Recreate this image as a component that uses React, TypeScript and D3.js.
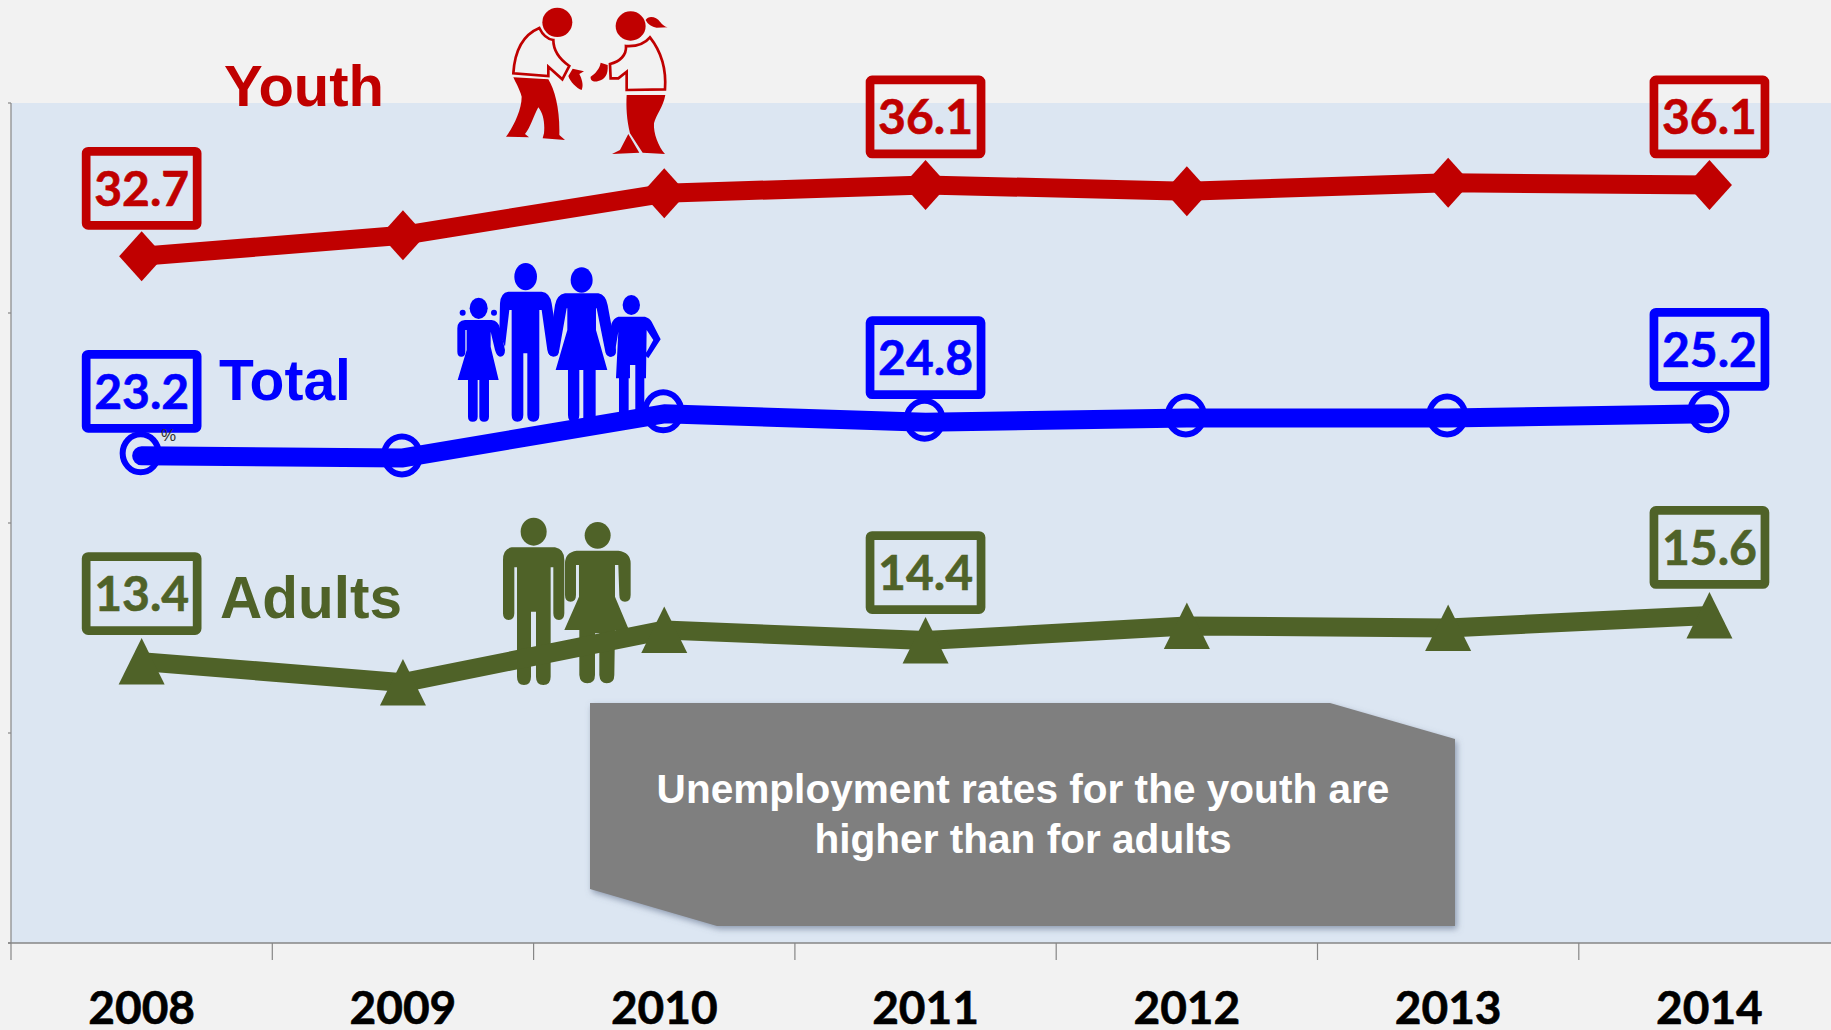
import React from 'react';
import * as d3 from 'd3';

const years = ['2008', '2009', '2010', '2011', '2012', '2013', '2014'];
const youthValues = [32.7, 33.7, 35.7, 36.1, 35.8, 36.2, 36.1];
const totalValues = [23.2, 23.1, 25.2, 24.8, 25.0, 25.0, 25.2];
const adultValues = [13.4, 12.4, 14.9, 14.4, 15.1, 15.0, 15.6];
const labelledYears = ['2008', '2011', '2014'];
const calloutLines = ['Unemployment rates for the youth are', 'higher than for adults'];

const RED = '#C00000';
const BLUE = '#0000FF';
const GREEN = '#4F6228';
const AXIS = '#868686';
const LATO = 'Lato, Carlito, sans-serif';
const ARIAL = '"Liberation Sans", Arial, sans-serif';

const W = 1831;
const H = 1030;
const plot = { left: 11, right: W, top: 103, bottom: 943 };

const x = d3
  .scaleBand<string>()
  .domain(years)
  .range([plot.left, plot.left + 261.3 * years.length]);
const y = d3.scaleLinear().domain([0, 40]).range([plot.bottom, plot.top]);
const cx = (year: string) => (x(year) as number) + x.bandwidth() / 2;

const linePath = d3
  .line<number>()
  .x((_, i) => cx(years[i]))
  .y((v) => y(v));

// The three person pictograms are traced in a local grid and scaled down by a third.
function YouthFigures() {
  return (
    <g transform="translate(480,0) scale(0.3333)" fill={RED}>
      <ellipse cx={232} cy={67} rx={45} ry={44} />
      <path
        d="M178,84 C140,100 105,140 100,220 L205,228 L205,200 L247,238 L268,198 C235,175 220,150 220,120 C205,118 188,105 178,84 Z"
        fill="none"
        stroke={RED}
        strokeWidth={8}
      />
      <path d="M100,232 L205,238 C225,270 240,330 238,405 L255,420 L188,415 L192,400 C195,370 190,340 175,322 C160,350 150,385 135,402 L147,412 L78,410 C100,380 125,330 125,290 C118,265 108,250 100,232 Z" />
      <path d="M265,228 L278,206 L312,214 L298,222 C305,235 312,255 305,270 C290,265 270,245 265,228 Z" />
      <ellipse cx={452} cy={78} rx={45} ry={44} />
      <path d="M497,60 C505,45 530,50 540,65 C548,75 555,80 563,82 L530,83 C515,80 505,75 497,60 Z" />
      <path
        d="M510,112 C540,150 560,200 555,268 L440,270 L440,215 L415,235 L392,235 L390,192 C420,185 440,165 438,138 C470,140 495,130 510,112 Z"
        fill="none"
        stroke={RED}
        strokeWidth={8}
      />
      <path d="M383,195 L362,188 C360,205 345,222 332,230 C330,240 340,248 355,243 C375,238 385,225 383,195 Z" />
      <path d="M440,285 L556,285 C550,320 528,345 522,370 C520,400 535,440 555,462 L488,458 L450,400 C440,360 438,320 440,285 Z" />
      <path d="M445,402 L478,458 L396,462 L420,450 Z" />
    </g>
  );
}

function FamilyFigures() {
  return (
    <g transform="translate(440,250) scale(0.3333)" fill={BLUE}>
      <ellipse cx={116} cy={175} rx={27} ry={32} />
      <circle cx={68} cy={188} r={9} />
      <circle cx={162} cy={188} r={9} />
      <path d="M75,210 L155,210 Q175,212 180,235 L195,300 Q195,320 180,320 Q170,318 165,300 L152,245 L152,290 L176,390 L147,390 L147,500 Q147,515 132,515 Q118,515 118,500 L118,390 L113,390 L113,500 Q113,515 98,515 Q84,515 84,500 L84,390 L53,390 L80,300 L80,240 L76,240 L76,305 Q76,320 64,320 Q52,320 52,305 L52,235 Q52,212 75,210 Z" />
      <ellipse cx={257} cy={80} rx={34} ry={41} />
      <path d="M205,125 L305,125 Q330,128 335,160 L357,300 Q358,320 340,320 Q325,318 322,300 L305,180 L298,180 L298,495 Q298,515 280,515 Q262,515 262,495 L262,310 L250,310 L250,495 Q250,515 232,515 Q215,515 215,495 L215,180 L208,180 L195,290 L178,250 L180,160 Q182,128 205,125 Z" />
      <ellipse cx={425} cy={90} rx={33} ry={38} />
      <path d="M375,130 L475,130 Q498,135 503,165 L528,300 Q530,320 512,320 Q497,318 495,300 L470,175 L468,175 L468,240 L502,360 L467,360 L467,510 L430,510 L430,360 L418,360 L418,495 Q418,515 400,515 Q384,515 384,495 L384,360 L347,360 L382,240 L382,175 L380,175 L358,300 Q352,320 338,318 Q325,318 325,300 L345,165 Q350,135 375,130 Z" />
      <ellipse cx={574} cy={165} rx={26} ry={30} />
      <path d="M535,200 L615,200 Q630,205 635,215 L662,268 L625,325 L615,315 L640,270 L620,240 L618,385 L613,385 L613,490 L586,490 L586,345 L570,345 L570,385 L566,385 L566,490 L537,490 L537,385 L528,385 L535,245 L525,305 Q520,320 510,320 Q497,318 497,300 L515,220 Q520,205 535,200 Z" />
    </g>
  );
}

function AdultFigures() {
  return (
    <g transform="translate(480,500) scale(0.3333)" fill={GREEN}>
      <ellipse cx={161} cy={95} rx={39} ry={42} />
      <path d="M95,142 L225,142 Q253,147 253,180 L253,340 Q253,360 237,360 Q220,360 220,340 L220,202 L212,202 L212,530 Q212,555 190,555 Q168,555 168,530 L168,335 L153,335 L153,530 Q153,555 132,555 Q111,555 111,530 L111,202 L103,202 L103,340 Q103,360 86,360 Q69,360 69,340 L69,180 Q69,147 95,142 Z" />
      <ellipse cx={353} cy={106} rx={39} ry={40} />
      <path d="M290,152 L415,152 Q452,157 452,190 L452,285 Q452,305 435,305 Q418,305 418,285 L415,195 L405,195 L405,290 L447,390 L405,390 L403,525 Q403,550 380,550 Q360,550 358,525 L358,400 L345,400 L345,525 Q345,550 322,550 Q300,550 298,525 L298,390 L253,390 L297,290 L297,195 L288,195 L288,285 Q288,305 272,305 Q255,305 255,285 L255,190 Q255,157 290,152 Z" />
    </g>
  );
}

type SeriesProps = {
  values: number[];
  color: string;
  width: number;
  labelOffset: number;
  cap: 'butt' | 'round';
  marker: (px: number, py: number, key: string) => React.ReactNode;
  behindLine?: boolean;
};

function Series({ values, color, width, labelOffset, cap, marker, behindLine }: SeriesProps) {
  const marks = values.map((v, i) => marker(cx(years[i]), y(v), years[i]));
  return (
    <g>
      {behindLine && marks}
      <path
        d={linePath(values) as string}
        fill="none"
        stroke={color}
        strokeWidth={width}
        strokeLinejoin="round"
        strokeLinecap={cap}
      />
      {!behindLine && marks}
      {years.map((year, i) =>
        labelledYears.includes(year) ? (
          <g key={year} transform={`translate(${cx(year)},${y(values[i]) + labelOffset})`}>
            <rect x={-55.5} y={-37} width={111} height={74} rx={2} fill="none" stroke={color} strokeWidth={8.7} />
            <text
              textAnchor="middle"
              y={17.5}
              fontFamily={LATO}
              fontWeight={700}
              fontSize={48}
              fill={color}
              stroke={color}
              strokeWidth={0.6}
            >
              {values[i].toFixed(1)}
            </text>
          </g>
        ) : null
      )}
    </g>
  );
}

const diamond = (px: number, py: number, key: string) => (
  <path key={key} d={`M${px},${py - 25}L${px + 22.5},${py}L${px},${py + 25}L${px - 22.5},${py}Z`} fill={RED} />
);
const triangle = (px: number, py: number, key: string) => (
  <path key={key} d={`M${px},${py - 23.5}L${px + 23},${py + 23}L${px - 23},${py + 23}Z`} fill={GREEN} />
);
const ring = (px: number, py: number, key: string) => (
  <ellipse key={key} cx={px - 1} cy={py - 2.5} rx={18} ry={19} fill="none" stroke={BLUE} strokeWidth={6} />
);

export default function App() {
  const edges = [...years.map((d) => x(d) as number), x.range()[1]].filter((v) => v < W);
  return (
    <svg
      width={W}
      height={H}
      viewBox={`0 0 ${W} ${H}`}
      style={{ position: 'absolute', left: 0, top: 0, display: 'block' }}
    >
      <defs>
        <filter id="calloutShadow" x="-5%" y="-5%" width="110%" height="115%">
          <feDropShadow dx={2} dy={3} stdDeviation={3} floodColor="#5b6b85" floodOpacity={0.6} />
        </filter>
      </defs>
      <rect width={W} height={H} fill="#F2F2F2" />
      <rect x={plot.left} y={plot.top} width={plot.right - plot.left} height={plot.bottom - plot.top} fill="#DCE6F2" />

      {/* Axes */}
      <line x1={plot.left} x2={plot.left} y1={plot.top} y2={plot.bottom} stroke={AXIS} strokeWidth={1.2} />
      {y.ticks(4).map((t) => (
        <line key={t} x1={plot.left - 3} x2={plot.left} y1={y(t)} y2={y(t)} stroke={AXIS} strokeWidth={1.2} />
      ))}
      <line x1={plot.left - 3} x2={plot.right} y1={plot.bottom} y2={plot.bottom} stroke={AXIS} strokeWidth={1.6} />
      {edges.map((e) => (
        <line key={e} x1={e} x2={e} y1={plot.bottom} y2={plot.bottom + 17} stroke={AXIS} strokeWidth={1.2} />
      ))}
      {years.map((year) => (
        <text
          key={year}
          x={cx(year)}
          y={1024}
          textAnchor="middle"
          fontFamily={LATO}
          fontWeight={700}
          fontSize={46}
          fill="#000"
          stroke="#000"
          strokeWidth={0.6}
        >
          {year}
        </text>
      ))}

      <YouthFigures />
      <FamilyFigures />
      <AdultFigures />

      <Series values={youthValues} color={RED} width={19} labelOffset={-68} cap="butt" marker={diamond} />
      <Series values={totalValues} color={BLUE} width={19} labelOffset={-64.5} cap="round" marker={ring} behindLine />
      <Series values={adultValues} color={GREEN} width={19} labelOffset={-68} cap="butt" marker={triangle} />

      <text x={224} y={106} fontFamily={ARIAL} fontWeight={700} fontSize={58} fill={RED}>
        Youth
      </text>
      <text x={219} y={400} fontFamily={ARIAL} fontWeight={700} fontSize={57} fill={BLUE}>
        Total
      </text>
      <text x={220} y={618} fontFamily={ARIAL} fontWeight={700} fontSize={58.5} fill={GREEN}>
        Adults
      </text>
      <text x={161} y={441} fontFamily={ARIAL} fontSize={17} fill="#333">
        %
      </text>

      {/* Callout with two snipped corners */}
      <path
        d="M590,703 L1330,703 L1455,739 L1455,926 L717,926 L590,889 Z"
        fill="#7F7F7F"
        filter="url(#calloutShadow)"
      />
      {calloutLines.map((line, i) => (
        <text
          key={line}
          x={1023}
          y={803 + i * 49.5}
          textAnchor="middle"
          fontFamily={ARIAL}
          fontWeight={700}
          fontSize={40.6}
          fill="#fff"
        >
          {line}
        </text>
      ))}
    </svg>
  );
}
